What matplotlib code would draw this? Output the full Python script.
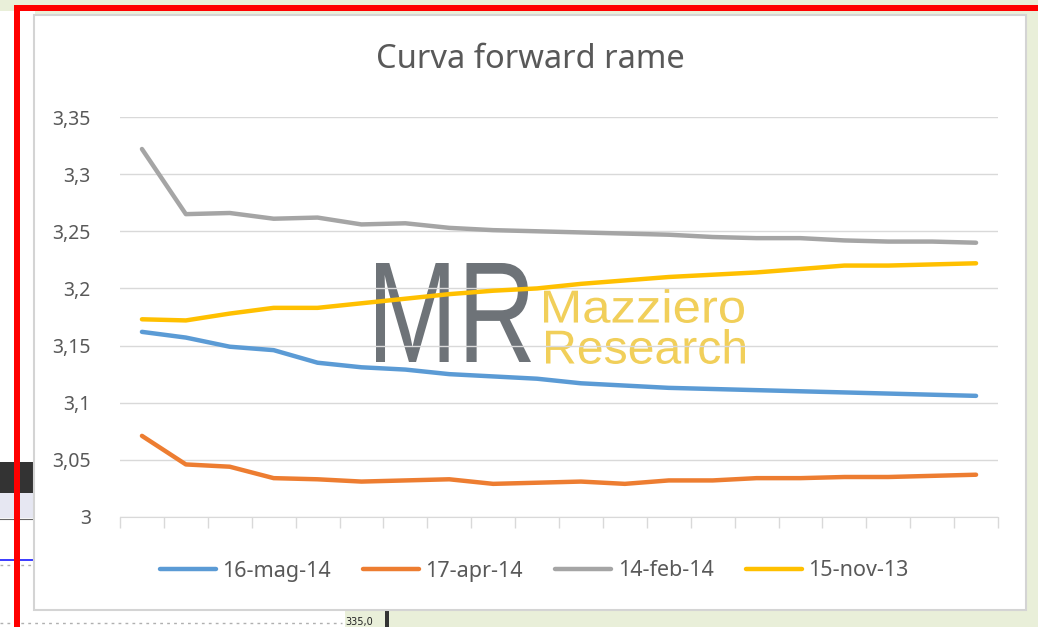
import matplotlib
matplotlib.use("Agg")
import matplotlib.pyplot as plt
from matplotlib.patches import Rectangle, PathPatch
from matplotlib.textpath import TextPath
from matplotlib.font_manager import FontProperties
from matplotlib.transforms import Affine2D
from matplotlib.lines import Line2D
import numpy as np

W, H = 1038, 627

title = "Curva forward rame"
series_names = ["16-mag-14", "17-apr-14", "14-feb-14", "15-nov-13"]
colors = ["#5B9BD5", "#ED7D31", "#A5A5A5", "#FFC000"]

mag14 = [3.162, 3.157, 3.149, 3.146, 3.135, 3.131, 3.129, 3.125, 3.123, 3.121,
         3.117, 3.115, 3.113, 3.112, 3.111, 3.110, 3.109, 3.108, 3.107, 3.106]
apr14 = [3.071, 3.046, 3.044, 3.034, 3.033, 3.031, 3.032, 3.033, 3.029, 3.030,
         3.031, 3.029, 3.032, 3.032, 3.034, 3.034, 3.035, 3.035, 3.036, 3.037]
feb14 = [3.322, 3.265, 3.266, 3.261, 3.262, 3.256, 3.257, 3.253, 3.251, 3.250,
         3.249, 3.248, 3.247, 3.245, 3.244, 3.244, 3.242, 3.241, 3.241, 3.240]
nov13 = [3.173, 3.172, 3.178, 3.183, 3.183, 3.187, 3.191, 3.195, 3.198, 3.200,
         3.204, 3.207, 3.210, 3.212, 3.214, 3.217, 3.220, 3.220, 3.221, 3.222]
series = [mag14, apr14, feb14, nov13]

y_ticks = [3.0, 3.05, 3.1, 3.15, 3.2, 3.25, 3.3, 3.35]
y_labels = ["3", "3,05", "3,1", "3,15", "3,2", "3,25", "3,3", "3,35"]

FONT = ["Noto Sans", "DejaVu Sans"]
plt.rcParams["font.family"] = FONT

fig = plt.figure(figsize=(W / 100, H / 100), dpi=100)
fig.patch.set_facecolor("#e9efd9")


def rect(x0, y0, x1, y1, **kw):
    fig.add_artist(Rectangle((x0 / W, 1 - y1 / H), (x1 - x0) / W, (y1 - y0) / H,
                             transform=fig.transFigure, **kw))


def hline(x0, x1, y, **kw):
    fig.add_artist(Line2D([x0 / W, x1 / W], [1 - y / H, 1 - y / H],
                          transform=fig.transFigure, **kw))


# screenshot surroundings on the left / bottom
rect(0, 11, 35, 627, facecolor="#ffffff", edgecolor="none", zorder=1)
rect(0, 610, 345, 627, facecolor="#ffffff", edgecolor="none", zorder=1)
rect(0, 462, 35, 493, facecolor="#333333", edgecolor="none", zorder=1)
rect(0, 493, 35, 518, facecolor="#e6e7f2", edgecolor="none", zorder=1)
hline(0, 35, 518.5, color="#666666", linewidth=0.8, zorder=1.5)
hline(0, 35, 560, color="#1a1aff", linewidth=1.2, zorder=1.5)
hline(0, 35, 565, color="#b0b0b0", linewidth=1, linestyle=(0, (2, 3)), zorder=1.5)
hline(0, 342, 623, color="#b0b0b0", linewidth=1, linestyle=(0, (2, 3)), zorder=1.5)
fig.text(345 / W, 1 - 622 / H, "335,0", fontsize=7, color="#222222", ha="left",
         va="center", family="DejaVu Sans", zorder=1.5)
rect(385, 610, 389, 627, facecolor="#333333", edgecolor="none", zorder=1.5)

# white chart box
rect(34, 15, 1026, 610, facecolor="white", edgecolor="#d4d4d4", linewidth=1.5, zorder=2)
# red frame
rect(14, 5, 19.5, 627, facecolor="#ff0000", edgecolor="none", zorder=5)
rect(14, 5, 1038, 11, facecolor="#ff0000", edgecolor="none", zorder=5)

# plot area
ax = fig.add_axes([120 / W, 1 - 517 / H, 878 / W, 400 / H])
ax.set_zorder(3)
ax.patch.set_alpha(0)
x = np.arange(len(mag14))
for s, name, c in zip(series, series_names, colors):
    ax.plot(x, s, color=c, linewidth=3.2, label=name, solid_capstyle="round", zorder=4)

ax.set_xlim(-0.5, len(x) - 0.5)
ax.set_ylim(3.0, 3.35)
ax.set_yticks(y_ticks)
ax.set_yticklabels(y_labels)
ax.set_xticks(np.arange(-0.5, len(x), 1.0))
ax.set_xticklabels([])
ax.tick_params(axis="x", length=8, color="#d9d9d9", width=1)
ax.tick_params(axis="y", length=0, labelsize=14, labelcolor="#595959", pad=21)
ax.grid(axis="y", color="#d9d9d9", linewidth=1, zorder=0)
ax.set_axisbelow(True)
for sp in ["top", "right", "left"]:
    ax.spines[sp].set_visible(False)
ax.spines["bottom"].set_color("#d9d9d9")


# watermark (text paths fitted into pixel boxes)
def fit_text(s, box, color, family="Liberation Sans", weight="normal", z=1.0):
    x0, y0, x1, y1 = box
    tp = TextPath((0, 0), s, size=1, prop=FontProperties(family=family, weight=weight))
    ext = tp.get_extents()
    sx = (x1 - x0) / ext.width
    sy = (y1 - y0) / ext.height
    tr = (Affine2D().translate(-ext.x0, -ext.y0).scale(sx / W, sy / H)
          .translate(x0 / W, 1 - y1 / H) + fig.transFigure)
    fig.add_artist(PathPatch(tp, transform=tr, facecolor=color, edgecolor="none",
                             zorder=z))


fit_text("MR", (376, 263, 531, 362), "#6e7378", z=2.5)
fit_text("Mazziero", (544, 289, 744, 323), "#f1cf5a", z=2.5)
fit_text("Research", (546, 329, 745, 364), "#f1cf5a", z=2.5)

fig.text(530 / W, 1 - 60 / H, title, fontsize=23.5, color="#595959", ha="center",
         va="center", zorder=6)

fig.legend(loc="center", bbox_to_anchor=(534 / W, 1 - 571 / H), ncol=4, frameon=False,
           fontsize=15.5, labelcolor="#595959", handlelength=2.6, columnspacing=1.5,
           handletextpad=0.3)

fig.savefig("out.png", dpi=100, facecolor=fig.get_facecolor())
